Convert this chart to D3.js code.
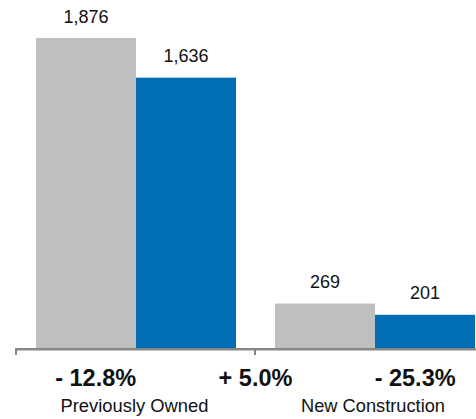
<!DOCTYPE html>
<html>
<head>
<meta charset="utf-8">
<script src="https://cdn.jsdelivr.net/npm/d3@7/dist/d3.min.js"></script>
<style>
  html, body { margin: 0; padding: 0; background: #fff; }
  svg { display: block; font-family: "Liberation Sans", Arial, Helvetica, sans-serif; }
</style>
</head>
<body>
<svg id="chart" width="476" height="419"></svg>
<script>
// Home sales by type, prior period vs current period
const categories = ["Previously Owned", "New Construction"];
const seriesNames = ["Prior", "Current"];
const priorValues = [1876, 269];
const currentValues = [1636, 201];
// Change labels: per category, then the overall change between groups
const categoryChanges = ["- 12.8%", "- 25.3%"];
const totalChange = "+ 5.0%";

const colors = { Prior: "#bfbfbf", Current: "#006db5" };

const svg = d3.select("#chart");
const baseline = 348;

const x0 = d3.scaleBand().domain(categories).range([16, 494]).paddingInner(0).paddingOuter(0);
const x1 = d3.scaleBand().domain(seriesNames).range([20, x0.bandwidth() - 19]).padding(0);
const y = d3.scaleLinear().domain([0, 1876]).range([baseline, 38]);

const rows = categories.map((c, i) => ({
  category: c,
  values: [
    { key: "Prior", value: priorValues[i] },
    { key: "Current", value: currentValues[i] }
  ]
}));

const groups = svg.selectAll("g.group")
  .data(rows)
  .join("g")
  .attr("class", "group")
  .attr("transform", d => `translate(${x0(d.category)},0)`);

groups.selectAll("rect")
  .data(d => d.values)
  .join("rect")
  .attr("x", d => x1(d.key))
  .attr("width", x1.bandwidth())
  .attr("y", d => y(d.value))
  .attr("height", d => baseline - y(d.value))
  .attr("fill", d => colors[d.key]);

groups.selectAll("text.value")
  .data(d => d.values)
  .join("text")
  .attr("class", "value")
  .attr("x", d => x1(d.key) + x1.bandwidth() / 2)
  .attr("y", d => y(d.value) - 15.5)
  .attr("text-anchor", "middle")
  .attr("font-size", 18)
  .attr("fill", "#111")
  .text(d => d3.format(",")(d.value));

// Axis line with ticks at group boundaries
const axisColor = "#878787";
svg.append("line")
  .attr("x1", 15).attr("x2", 476)
  .attr("y1", baseline + 1.3).attr("y2", baseline + 1.3)
  .attr("stroke", axisColor).attr("stroke-width", 2.6);

const boundaries = categories.map(c => x0(c));
svg.selectAll("line.tick")
  .data(boundaries)
  .join("line")
  .attr("class", "tick")
  .attr("x1", d => d).attr("x2", d => d)
  .attr("y1", baseline).attr("y2", baseline + 7)
  .attr("stroke", axisColor).attr("stroke-width", 2);

// Change labels
const changeX = [x0(categories[0]) + x0.bandwidth() / 3, x0(categories[1]) + x0.bandwidth() * 0.67];
svg.selectAll("text.change")
  .data(categoryChanges)
  .join("text")
  .attr("class", "change")
  .attr("x", (d, i) => changeX[i])
  .attr("y", 386)
  .attr("text-anchor", "middle")
  .attr("font-size", 23.5)
  .attr("font-weight", "bold")
  .attr("fill", "#111")
  .text(d => d);

svg.append("text")
  .attr("x", x0(categories[1]) + 0.5)
  .attr("y", 386)
  .attr("text-anchor", "middle")
  .attr("font-size", 23.5)
  .attr("font-weight", "bold")
  .attr("fill", "#111")
  .text(totalChange);

// Category labels (narrow setting)
const labelWidths = [148, 144];
svg.selectAll("text.category")
  .data(categories)
  .join("text")
  .attr("class", "category")
  .attr("x", (d, i) => x0(d) + x0.bandwidth() / 2 - (i === 0 ? 1 : 1.5))
  .attr("y", 411.5)
  .attr("text-anchor", "middle")
  .attr("font-size", 19)
  .attr("textLength", (d, i) => labelWidths[i])
  .attr("lengthAdjust", "spacingAndGlyphs")
  .attr("fill", "#111")
  .text(d => d);
</script>
</body>
</html>
